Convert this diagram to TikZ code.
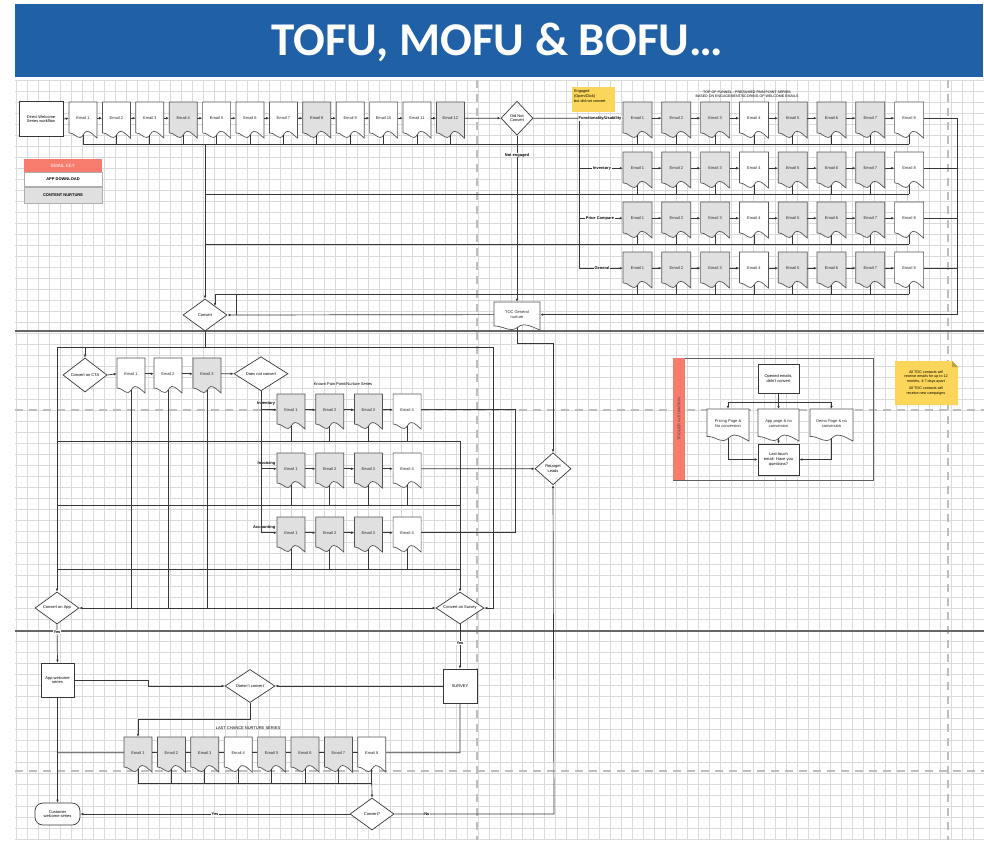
\documentclass[tikz,border=0pt]{standalone}
\usepackage{fontspec}
\setmainfont{Liberation Sans}
\newfontfamily\titlefont{Carlito}
\usetikzlibrary{arrows.meta,shapes.geometric,calc}
\definecolor{bannerblue}{RGB}{31,96,166}
\definecolor{gridc}{RGB}{218,218,218}
\definecolor{linec}{RGB}{55,55,55}
\definecolor{grayfill}{RGB}{224,224,224}
\definecolor{salmon}{RGB}{248,124,110}
\definecolor{notey}{RGB}{252,214,90}
\definecolor{dashc}{RGB}{190,190,190}
\newcommand{\fsz}{\fontsize{4}{4.7}\selectfont}
\newcommand{\EmailDoc}[7]{%
 \begin{scope}[shift={(#3,#4)}]
  \begin{scope}[xscale=#5/28, yscale=#6/35]
   \filldraw[docline, fill=#1] (0,0) -- (28,0) -- (28,35) .. controls (25,33) and (22,28.5) .. (18,28.5) .. controls (15,28.5) and (14,34.5) .. (11,34.5) .. controls (7,34.5) and (5,30) .. (0,30) -- cycle;
  \end{scope}
  \pgfmathsetmacro\dh{#6*0.9}
  \node[doctxt, minimum width=#5pt, minimum height=\dh pt] (#2) at (#5/2, #6*0.45) {#7};
 \end{scope}}
\tikzset{
 conn/.style={draw=linec, line width=0.7pt},
 arr/.style={conn, -{Latex[length=3pt,width=2.6pt]}},
 docline/.style={draw=linec!85, line width=0.7pt},
 doctxt/.style={inner sep=0pt, align=center, font=\fsz, text=black!85},
 box/.style={draw=linec, line width=0.7pt, fill=white, inner sep=0.5pt, align=center, font=\fsz},
 dia/.style={diamond, aspect=1.5, draw=linec, line width=0.7pt, fill=white, inner sep=0pt, align=center, font=\fsz},
 lbl/.style={fill=white, inner sep=0.6pt, font=\fsz\bfseries},
 plain/.style={inner sep=0pt, align=center, font=\fsz},
}
\begin{document}
\begin{tikzpicture}[x=1pt,y=-1pt]
\useasboundingbox (0,0) rectangle (984,840);
\fill[white] (0,0) rectangle (984,840);
% grid
\foreach \gx in {16,27,...,984} \draw[gridc, line width=0.5pt] (\gx,80) -- (\gx,840);
\foreach \gy in {80,91,...,840} \draw[gridc, line width=0.5pt] (15,\gy) -- (984,\gy);
% dashed guides
\draw[dashc, line width=1.4pt, dash pattern=on 8pt off 6pt] (477,80) -- (477,840);
\draw[dashc, line width=1.4pt, dash pattern=on 8pt off 6pt] (948,80) -- (948,840);
\draw[dashc, line width=1.4pt, dash pattern=on 8pt off 6pt] (15,410) -- (984,410);
\draw[dashc, line width=1.4pt, dash pattern=on 8pt off 6pt] (15,771) -- (984,771);
% section dividers
\draw[black!60, line width=1.3pt] (15,331) -- (984,331);
\draw[black!60, line width=1.3pt] (15,631) -- (984,631);
% title banner
\fill[bannerblue] (15,4) rectangle (983,77);
\node[text=white, font=\titlefont\bfseries\fontsize{47}{48}\selectfont] (title) at (497,42) {TOFU, MOFU \& BOFU…};

% ===== TOP SECTION =====
\node[box, minimum width=44pt, minimum height=35pt] (start) at (41,119) {Direct Welcome\\Series workflow};
\foreach \k/\f in {1/white,2/white,3/white,4/grayfill,5/white,6/white,7/white,8/grayfill,9/white,10/white,11/white,12/grayfill}{
  \pgfmathsetmacro\xx{69+33.4*(\k-1)}
  \EmailDoc{\f}{w\k}{\xx}{102}{28}{36}{Email \k}
}
\draw[arr] (start.east) -- (w1.west);
\foreach \k [evaluate=\k as \n using int(\k+1)] in {1,...,11} \draw[arr] (w\k.east) -- (w\n.west);

% legend
\fill[salmon] (24,159) rectangle (102,172);
\node[text=white, font=\fontsize{4.5}{5}\selectfont] (keyh) at (63,165.5) {EMAIL KEY};
\draw[gridc!80!black, line width=0.4pt, fill=white] (24,172) rectangle (102,186);
\node[plain, font=\fsz\bfseries] (keya) at (63,179) {APP DOWNLOAD};
\draw[gridc!80!black, line width=0.4pt, fill=grayfill] (24,187) rectangle (102,203);
\node[plain, font=\fsz\bfseries] (keyc) at (63,195) {CONTENT NURTURE};

% did not convert diamond
\node[dia, minimum width=32pt, minimum height=34pt] (dnc) at (517,118.2) {Did Not\\Convert};
\draw[arr] (w12.east) -- (dnc.west);

% yellow note
\fill[notey] (572,87) rectangle (615,112);
\node[plain, align=left, anchor=north west, font=\fontsize{3.8}{4.6}\selectfont] (note1) at (574,90) {Engaged\\(Open/Click)\\but did not convert};

% right series header
\node[plain, font=\fontsize{3.6}{4.3}\selectfont] (hdr) at (747,94) {TOP OF FUNNEL - PRESUMED PAIN POINT SERIES\\BASED ON ENGAGEMENT/SCORING OF WELCOME EMAILS};

% right series
\foreach \rw/\ty in {1/102,2/152,3/202,4/252}{
 \foreach \k/\f in {1/grayfill,2/grayfill,3/grayfill,4/white,5/grayfill,6/grayfill,7/grayfill,8/white}{
   \pgfmathsetmacro\xx{623+38.8*(\k-1)}
   \EmailDoc{\f}{r\rw e\k}{\xx}{\ty}{29}{36}{Email \k}
 }
}
\foreach \rw in {1,...,4}{\foreach \k [evaluate=\k as \n using int(\k+1)] in {1,...,7}{\draw[arr] (r\rw e\k.east) -- (r\rw e\n.west);}}

\coordinate (hl1) at (0,144);
\coordinate (hl2) at (0,194);
\coordinate (hl3) at (0,244);
\coordinate (hl4) at (0,294);
\foreach \k in {1,...,12} \draw[conn] (w\k.south) -- (w\k.south |- hl1);
\foreach \rw in {1,...,4}{\foreach \k in {1,...,8}{\draw[conn] (r\rw e\k.south) -- (r\rw e\k.south |- hl\rw);}}

% TOC doc and convert diamond
\EmailDoc{white}{toc}{494}{302}{46}{28}{TOC General\\nurture}
\node[dia, minimum width=44pt, minimum height=32pt] (conv) at (205,315) {Convert};

\draw[conn] (w1.south |- hl1) -- (r1e8.south |- hl1);
\draw[conn] (205,194) -- (r2e8.south |- hl2);
\draw[conn] (205,244) -- (r3e8.south |- hl3);
\draw[conn] (215,294) -- (r4e8.south |- hl4);
\draw[arr] (215,294) -- (215,306);
\draw[arr] (205,144) -- (conv.north);
\draw[conn] (236,294) -- (236,315);
\draw[arr] (toc.west) -- (conv.east);

% junction to the right series
\coordinate (jx) at (579,0);
\draw[arr] (dnc.east) -- (r1e1.west);
\draw[conn] (jx |- r1e1.west) -- (jx |- r4e1.west);
\foreach \rw in {2,3,4} \draw[arr] (jx |- r\rw e1.west) -- (r\rw e1.west);
\node[lbl] (lab1) at (600,118.2) {Functionality/Usability};
\node[lbl] (lab2) at (602,168.2) {Inventory};
\node[lbl] (lab3) at (600,218.2) {Price Compare};
\node[lbl] (lab4) at (602,268.2) {General};

% right collector
\coordinate (rx) at (957,0);
\foreach \rw in {1,...,4} \draw[conn] (r\rw e8.east) -- (rx |- r\rw e8.east);
\draw[arr] (rx |- r1e8.east) -- (rx |- toc.east) -- (toc.east);

% not engaged
\draw[arr] (dnc.south) -- (toc.north);
\node[lbl] (ne) at (517,155) {Not engaged};

% ===== MIDDLE SECTION =====
\node[dia, minimum width=36pt, minimum height=32pt] (ret) at (553,468.75) {Retarget\\Leads};
\draw[arr] (toc.south) -- (517,343) -- (553,343) -- (ret.north);

\node[dia, minimum width=44pt, minimum height=34pt] (cta) at (85,375) {Convert on CTA};
\EmailDoc{white}{me1}{117}{358}{28}{35}{Email 1}
\EmailDoc{white}{me2}{154}{358}{28}{35}{Email 2}
\EmailDoc{grayfill}{me3}{193}{358}{28}{35}{Email 3}
\node[dia, minimum width=54pt, minimum height=34pt] (dnc2) at (261,373.75) {Does not convert};
\draw[arr] (cta.east) -- (me1.west);
\draw[arr] (me1.east) -- (me2.west);
\draw[arr] (me2.east) -- (me3.west);
\draw[arr] (me3.east) -- (dnc2.west);

\node[plain] (kps) at (343,384) {Known Pain Point/Nurture Series};
\foreach \rw/\ty in {1/394,2/453,3/517}{
 \foreach \k/\f in {1/grayfill,2/grayfill,3/grayfill,4/white}{
   \pgfmathsetmacro\xx{277+38.7*(\k-1)}
   \EmailDoc{\f}{k\rw e\k}{\xx}{\ty}{28}{35}{Email \k}
 }
}
\foreach \rw in {1,2,3}{\foreach \k [evaluate=\k as \n using int(\k+1)] in {1,2,3}{\draw[arr] (k\rw e\k.east) -- (k\rw e\n.west);}}
\node[lbl, fill=none, anchor=east] (kl1) at (276,404) {Inventory};
\node[lbl, fill=none, anchor=east] (kl2) at (276,463) {Invoicing};
\node[lbl, fill=none, anchor=east] (kl3) at (276,527) {Accounting};

\draw[conn] (dnc2.south) -- (dnc2.south |- k3e1.west);
\foreach \rw in {1,2,3} \draw[arr] (dnc2.south |- k\rw e1.west) -- (k\rw e1.west);

\node[dia, minimum width=44pt, minimum height=32pt] (capp) at (57,608) {Convert on App};
\node[dia, minimum width=48pt, minimum height=32pt] (csurv) at (460,608) {Convert on Survey};

\coordinate (bl1) at (0,441);
\coordinate (bl2) at (0,505);
\coordinate (bl3) at (0,569);
\foreach \rw in {1,2,3}{\foreach \k in {1,...,4}{\draw[conn] (k\rw e\k.south) -- (k\rw e\k.south |- bl\rw);}}
\draw[conn] (57,441) -- (460,441);
\draw[conn] (57,505) -- (460,505);
\draw[conn] (57,569) -- (460,569);
\foreach \k in {1,2,3} \draw[conn] (me\k.south) -- (me\k.south |- capp.east);

\coordinate (jm) at (515,0);
\draw[conn] (k1e4.east) -- (jm |- k1e4.east) -- (jm |- k3e4.east) -- (k3e4.east);
\draw[arr] (k2e4.east) -- (ret.west);

\draw[conn] (conv.south) -- (205,347);
\draw[conn] (57,347) -- (493,347);
\draw[arr] (85,347) -- (cta.north);
\draw[arr] (57,347) -- (capp.north);
\draw[arr] (460,441) -- (csurv.north);
\draw[arr] (493,347) -- (493,608) -- (csurv.east);
\draw[conn, {Latex[length=3pt,width=2.6pt]}-{Latex[length=3pt,width=2.6pt]}] (capp.east) -- (csurv.west);

% trigger automation
\draw[linec!80, line width=0.7pt] (673,358) rectangle (873,480);
\fill[salmon] (673.4,358.4) rectangle (685,479.6);
\node[plain, rotate=90, font=\fontsize{3.8}{4}\selectfont, text=black!75] (trig) at (679,419) {TRIGGER AUTOMATION};
\node[box, minimum width=41pt, minimum height=29pt] (oe) at (778.5,378.5) {Opened emails,\\didn't convert};
\EmailDoc{white}{t1}{707}{409}{42}{32}{Pricing Page \&\\No conversion}
\EmailDoc{white}{t2}{758}{409}{41}{32}{App page \& no\\conversion}
\EmailDoc{white}{t3}{810}{409}{43}{32}{Demo Page \& no\\conversion}
\node[box, minimum width=41pt, minimum height=31pt] (lb) at (778.5,459.5) {Last-touch\\email: Have you\\questions?};
\draw[conn] (oe.south) -- (778.5,402);
\draw[conn] (t1.north |- 0,402) -- (t3.north |- 0,402);
\draw[arr] (t1.north |- 0,402) -- (t1.north);
\draw[arr] (t2.north |- 0,402) -- (t2.north);
\draw[arr] (t3.north |- 0,402) -- (t3.north);
\draw[arr] (t1.south) -- (t1.south |- lb.west) -- (lb.west);
\draw[arr] (t3.south) -- (t3.south |- lb.east) -- (lb.east);
\draw[arr] (t2.south) -- (lb.north);

% sticky note right
\fill[notey] (895,361) -- (952,361) -- (958,367) -- (958,405) -- (895,405) -- cycle;
\fill[notey!75!black] (952,361) -- (952,367) -- (958,367) -- cycle;
\node[plain, font=\fontsize{3.7}{4.5}\selectfont] (note2) at (926,383) {All TOC contacts will\\receive emails for up to 12\\months, 4-7 days apart\\[3pt]All TOC contacts will\\receive new campaigns};

% ===== BOTTOM SECTION =====
\node[box, minimum width=33pt, minimum height=34pt] (appw) at (57.5,680) {App welcome\\series};
\node[box, minimum width=34pt, minimum height=34pt] (survb) at (460,686) {SURVEY};
\node[dia, minimum width=50pt, minimum height=33pt] (dc) at (250,686) {Doesn't convert};
\draw[arr] (capp.south) -- (appw.north);
\node[lbl] (yes1) at (57,632) {Yes};
\draw[arr] (csurv.south) -- (survb.north);
\node[lbl] (yes2) at (460,643) {Yes};
\draw[arr] (appw.east) -- (148,680) -- (148,686) -- (dc.west);
\draw[arr] (survb.west) -- (dc.east);

\node[plain] (lcn) at (248,728) {LAST CHANCE NURTURE SERIES};
\foreach \k/\f in {1/grayfill,2/grayfill,3/grayfill,4/white,5/grayfill,6/grayfill,7/grayfill,8/white}{
   \pgfmathsetmacro\xx{124+33.4*(\k-1)}
   \EmailDoc{\f}{l\k}{\xx}{737}{28}{35}{Email \k}
}
\foreach \k [evaluate=\k as \n using int(\k+1)] in {1,...,7} \draw[conn] (l\k.east) -- (l\n.west);
\draw[arr] (dc.south) -- (250,719) -- (l1.north |- 0,719) -- (l1.north);
\draw[conn] (57,752.75) -- (l1.west);
\draw[conn] (l8.east) -- (460,752.75) -- (survb.south);
\coordinate (ll) at (0,783);
\foreach \k in {1,...,8} \draw[conn] (l\k.south) -- (l\k.south |- ll);
\draw[conn] (l1.south |- ll) -- (l8.south |- ll);

\node[dia, minimum width=44pt, minimum height=32pt] (cq) at (372,814) {Convert?};
\draw[arr] (l8.south |- ll) -- (cq.north);
\node[box, rounded corners=8pt, minimum width=45pt, minimum height=22pt] (cws) at (57.5,814) {Customer\\welcome series};
\draw[arr] (appw.south) -- (cws.north);
\draw[arr] (cq.west) -- (cws.east);
\node[lbl] (yes3) at (215,814) {Yes};
\draw[arr] (cq.east) -- (554,814) -- (ret.south);
\node[lbl] (no1) at (427,814) {No};
\end{tikzpicture}
\end{document}
